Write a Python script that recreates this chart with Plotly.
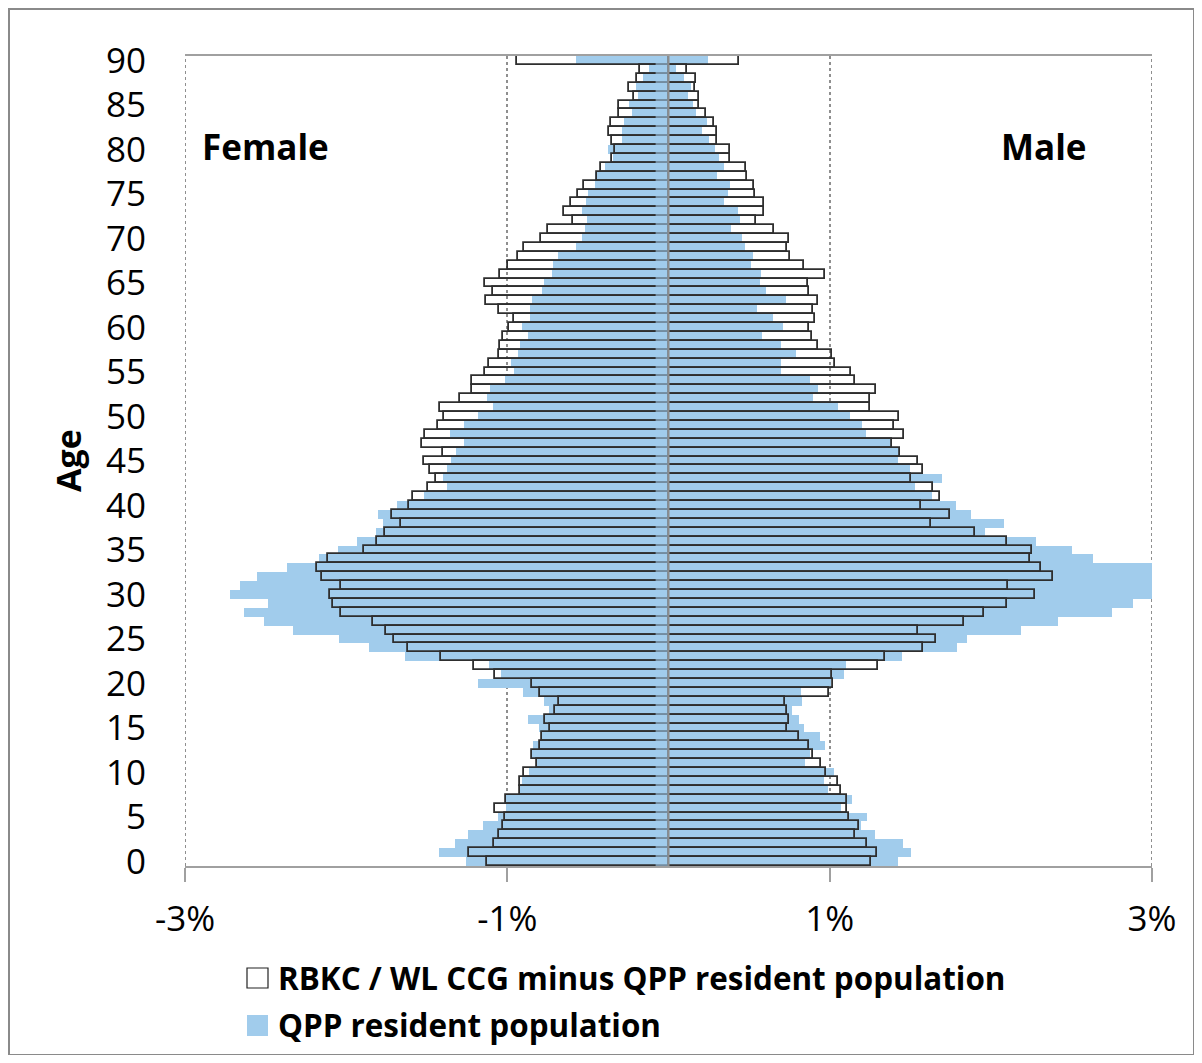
import plotly.graph_objects as go

ages = list(range(0, 91))

# Female: RBKC / WL CCG (outlined) and QPP (blue), % of population, ages 0..90
female_rbkc = [1.126, 1.237, 1.084, 1.053, 1.028, 1.014, 1.076, 1.010, 0.919, 0.923,
               0.894, 0.815, 0.846, 0.799, 0.782, 0.737, 0.766, 0.703, 0.679, 0.799,
               0.844, 1.074, 1.204, 1.411, 1.618, 1.705, 1.752, 1.833, 2.032, 2.079,
               2.102, 2.032, 2.152, 2.183, 2.112, 1.887, 1.808, 1.761, 1.657, 1.713,
               1.610, 1.585, 1.490, 1.444, 1.481, 1.515, 1.399, 1.527, 1.510, 1.432,
               1.390, 1.415, 1.295, 1.217, 1.217, 1.138, 1.115, 1.051, 1.043, 1.026,
               0.989, 0.956, 1.051, 1.132, 1.092, 1.140, 1.043, 0.997, 0.931, 0.894,
               0.790, 0.749, 0.592, 0.646, 0.604, 0.559, 0.526, 0.441, 0.416, 0.352,
               0.329, 0.348, 0.368, 0.356, 0.310, 0.310, 0.215, 0.248, 0.194, 0.174,
               0.939]
female_qpp = [1.254, 1.421, 1.326, 1.246, 1.150, 1.055, 1.010, 1.010, 0.919, 0.908,
              0.865, 0.815, 0.846, 0.840, 0.782, 0.801, 0.873, 0.743, 0.770, 0.904,
              1.184, 1.039, 1.113, 1.637, 1.860, 2.044, 2.330, 2.512, 2.632, 2.487,
              2.719, 2.657, 2.553, 2.367, 2.168, 2.053, 1.932, 1.813, 1.771, 1.804,
              1.684, 1.519, 1.374, 1.399, 1.374, 1.349, 1.320, 1.271, 1.358, 1.271,
              1.179, 1.088, 1.126, 1.109, 1.014, 0.960, 0.977, 0.935, 0.919, 0.873,
              0.911, 0.861, 0.861, 0.848, 0.782, 0.770, 0.720, 0.714, 0.687, 0.571,
              0.538, 0.521, 0.505, 0.538, 0.513, 0.497, 0.459, 0.455, 0.397, 0.343,
              0.377, 0.290, 0.290, 0.277, 0.228, 0.244, 0.188, 0.199, 0.157, 0.122,
              0.571]
# Male
male_rbkc = [1.254, 1.293, 1.229, 1.157, 1.181, 1.117, 1.109, 1.109, 1.072, 1.053,
             0.977, 0.944, 0.896, 0.873, 0.809, 0.737, 0.745, 0.737, 0.720, 0.997,
             1.022, 1.016, 1.302, 1.341, 1.581, 1.662, 1.550, 1.835, 1.955, 2.098,
             2.272, 2.106, 2.384, 2.313, 2.241, 2.258, 2.098, 1.899, 1.631, 1.746,
             1.566, 1.684, 1.643, 1.502, 1.579, 1.550, 1.436, 1.388, 1.459, 1.397,
             1.430, 1.252, 1.252, 1.285, 1.159, 1.134, 1.030, 1.014, 0.929, 0.888,
             0.871, 0.912, 0.894, 0.927, 0.871, 0.863, 0.968, 0.838, 0.751, 0.737,
             0.745, 0.656, 0.540, 0.592, 0.592, 0.538, 0.530, 0.490, 0.482, 0.379,
             0.379, 0.304, 0.304, 0.284, 0.234, 0.192, 0.192, 0.163, 0.172, 0.116,
             0.435]
male_qpp = [1.423, 1.507, 1.457, 1.281, 1.192, 1.233, 1.068, 1.138, 0.987, 0.962,
            1.028, 0.844, 0.875, 0.970, 0.939, 0.842, 0.811, 0.764, 0.828, 0.821,
            1.006, 1.091, 1.099, 1.448, 1.792, 1.854, 2.189, 2.419, 2.754, 2.882,
            3.05, 3.10, 3.15, 3.05, 2.634, 2.506, 2.282, 1.964, 2.084, 1.877,
            1.782, 1.633, 1.529, 1.695, 1.498, 1.426, 1.430, 1.388, 1.227, 1.202,
            1.124, 1.051, 0.898, 0.929, 0.875, 0.699, 0.695, 0.788, 0.695, 0.581,
            0.710, 0.648, 0.550, 0.726, 0.606, 0.567, 0.575, 0.511, 0.526, 0.472,
            0.457, 0.385, 0.441, 0.433, 0.346, 0.368, 0.383, 0.304, 0.343, 0.312,
            0.287, 0.250, 0.209, 0.240, 0.168, 0.151, 0.120, 0.137, 0.095, 0.048,
            0.246]

x_tickvals = [-3, -1, 1, 3]
x_ticktext = ["-3%", "-1%", "1%", "3%"]
y_tickvals = list(range(0, 91, 5))

series_names = ["RBKC / WL CCG minus QPP resident population", "QPP resident population"]

BLUE = "#A1CCEC"
OUTLINE = "#2e2e2e"
GRID = "#8f8f8f"
FONT = "Open Sans"

OFF = 8  # page body margin
W, H = 1202 - 2 * OFF, 1063 - 2 * OFF
PL, PR, PT, PB = 185 - OFF, 1152 - OFF, 56 - OFF, 866 - OFF  # plot area in figure px
L, R, T, B = PL, W - PR, PT, H - PB
PW, PH = PR - PL, PB - PT


def px(x):  # x: screen pixel in reference
    return (x - OFF - PL) / PW


def py(y):
    return (PB - (y - OFF)) / PH


fig = go.Figure()

fig.add_trace(go.Bar(y=ages, x=[-v for v in female_qpp], orientation="h", width=1,
                     marker=dict(color=BLUE, line=dict(width=0)), showlegend=False,
                     name=series_names[1]))
fig.add_trace(go.Bar(y=ages, x=male_qpp, orientation="h", width=1,
                     marker=dict(color=BLUE, line=dict(width=0)), showlegend=False,
                     name=series_names[1]))
fig.add_trace(go.Bar(y=ages, x=[-v for v in female_rbkc], orientation="h", width=1,
                     marker=dict(color="rgba(0,0,0,0)", line=dict(color=OUTLINE, width=1.8)),
                     showlegend=False, name=series_names[0]))
fig.add_trace(go.Bar(y=ages, x=male_rbkc, orientation="h", width=1,
                     marker=dict(color="rgba(0,0,0,0)", line=dict(color=OUTLINE, width=1.8)),
                     showlegend=False, name=series_names[0]))

shapes = [
    # dotted gridlines at the range edges
    dict(type="line", xref="x", yref="paper", x0=x_tickvals[0], x1=x_tickvals[0], y0=0, y1=1,
         line=dict(color=GRID, width=2, dash="dot"), layer="below"),
    dict(type="line", xref="x", yref="paper", x0=x_tickvals[-1], x1=x_tickvals[-1], y0=0, y1=1,
         line=dict(color=GRID, width=2, dash="dot"), layer="below"),
    # centre column and axis line
    dict(type="rect", xref="x", yref="y", x0=-0.08, x1=0, y0=-0.5, y1=90.5,
         fillcolor=BLUE, opacity=0.6, line=dict(width=0), layer="above"),
    dict(type="line", xref="x", yref="y", x0=0, x1=0, y0=-0.5, y1=90.5,
         line=dict(color="#8c8c8c", width=2), layer="above"),
    # outer border
    dict(type="rect", xref="paper", yref="paper", x0=px(9), x1=px(1194), y0=py(9), y1=py(1055),
         line=dict(color="#8a8a8a", width=2), fillcolor="rgba(0,0,0,0)", layer="below"),
    # legend symbols
    dict(type="rect", xref="paper", yref="paper", x0=px(247), x1=px(268), y0=py(968), y1=py(988),
         line=dict(color="#222222", width=1.2), fillcolor="white"),
    dict(type="rect", xref="paper", yref="paper", x0=px(247), x1=px(268), y0=py(1015), y1=py(1036),
         line=dict(width=0), fillcolor=BLUE),
]

annotations = [
    dict(text="<b>Female</b>", xref="paper", yref="paper", x=px(200), y=py(146),
         xanchor="left", yanchor="middle", showarrow=False, font=dict(size=35, color="black", family=FONT)),
    dict(text="<b>Male</b>", xref="paper", yref="paper", x=px(1089), y=py(146),
         xanchor="right", yanchor="middle", showarrow=False, font=dict(size=35, color="black", family=FONT)),
    dict(text="<b>Age</b>", xref="paper", yref="paper", x=px(68), y=py(461), textangle=-90,
         xanchor="center", yanchor="middle", showarrow=False, font=dict(size=34, color="black", family=FONT)),
    dict(text="<b>" + series_names[0] + "</b>", xref="paper", yref="paper", x=px(276), y=py(977),
         xanchor="left", yanchor="middle", showarrow=False, font=dict(size=31.4, color="black", family=FONT)),
    dict(text="<b>" + series_names[1] + "</b>", xref="paper", yref="paper", x=px(276), y=py(1025),
         xanchor="left", yanchor="middle", showarrow=False, font=dict(size=31.4, color="black", family=FONT)),
]

fig.update_layout(
    width=W, height=H,
    margin=dict(l=L, r=R, t=T, b=B, pad=0),
    paper_bgcolor="white", plot_bgcolor="white",
    barmode="overlay", bargap=0,
    showlegend=False,
    shapes=shapes, annotations=annotations,
    font=dict(family=FONT, color="black"),
    xaxis=dict(range=[-3, 3], tickvals=x_tickvals, ticktext=x_ticktext,
               tickfont=dict(size=35, family=FONT, color="black"),
               showgrid=True, gridcolor=GRID, griddash="dot", gridwidth=2,
               zeroline=False, showline=True, linecolor="#a0a0a0", linewidth=2, mirror=True,
               ticks="outside", ticklen=14, tickwidth=2, tickcolor="#a0a0a0",
               ticklabelstandoff=7, fixedrange=True),
    yaxis=dict(range=[-0.5, 90.5], tickvals=y_tickvals, ticktext=[str(v) for v in y_tickvals],
               tickfont=dict(size=35, family=FONT, color="black"),
               showgrid=False, zeroline=False, showline=False, ticks="",
               ticklabelstandoff=38, fixedrange=True),
)

fig.write_html("out.html")
